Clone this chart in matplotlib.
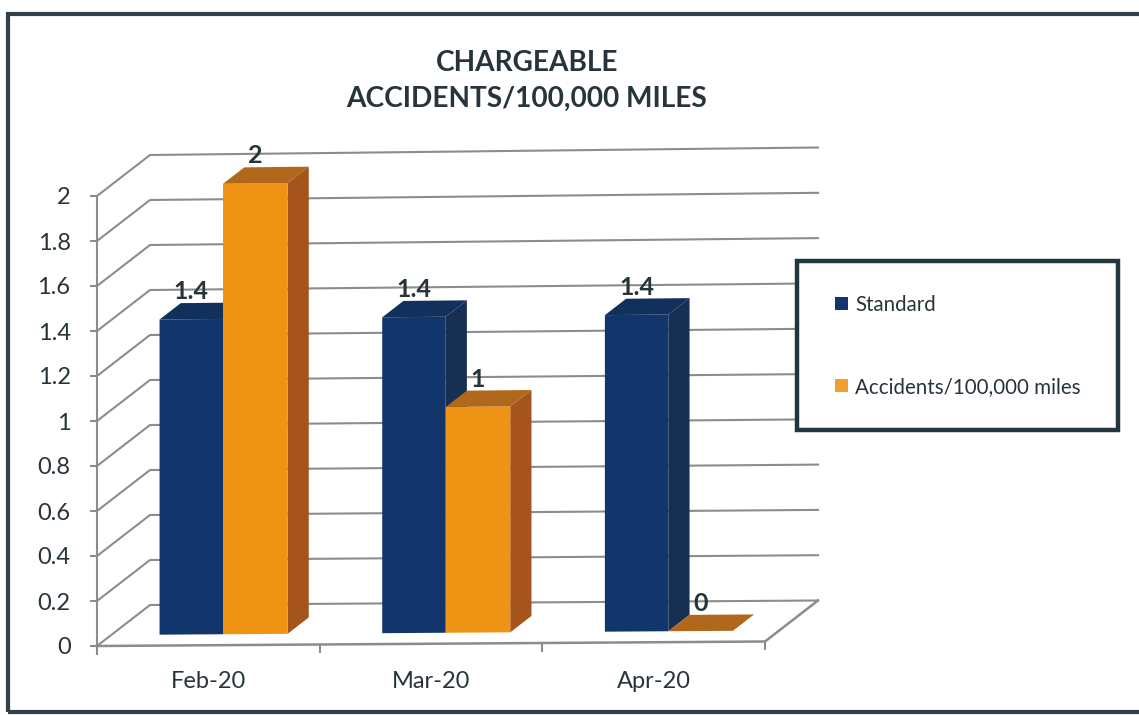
import matplotlib
matplotlib.use('Agg')
import matplotlib.pyplot as plt
from matplotlib.patches import Polygon, Rectangle, Patch

plt.rcParams['font.family'] = ['Lato', 'DejaVu Sans']

months = ['Feb-20', 'Mar-20', 'Apr-20']
standard = [1.4, 1.4, 1.4]
accidents = [2, 1, 0]
y_ticks = [0, 0.2, 0.4, 0.6, 0.8, 1, 1.2, 1.4, 1.6, 1.8, 2]
y_labels = ['0', '0.2', '0.4', '0.6', '0.8', '1', '1.2', '1.4', '1.6', '1.8', '2']

W, H = 1139, 715
TEXT = '#27343a'
GRID = '#8c8c8c'
NAVY = ('#12366b', '#12305c', '#172f52')
ORANGE = ('#ee9314', '#b0691c', '#a5541c')

# fake 3d: depth offset of the back wall, in data units
DX = 53 / 222.7
DY = 41 / 225


def proj(x, v, d=0):
    # scan is a little rotated, so lines climb to the right
    return x + d * DX, v + d * DY + (1.5 + 0.5 * v) / 225 * x


def bar3d(ax, x, w, v, cols):
    d0, d1 = 0.34, 0.74
    lift = -0.013  # bars stand a bit lower than the depth alone gives

    def pt(px, pv, d):
        qx, qy = proj(px, pv, d)
        return qx, qy + lift

    front = [pt(x, 0, d0), pt(x + w, 0, d0), pt(x + w, v, d0), pt(x, v, d0)]
    top = [pt(x, v, d0), pt(x + w, v, d0), pt(x + w, v, d1), pt(x, v, d1)]
    side = [pt(x + w, 0, d0), pt(x + w, 0, d1), pt(x + w, v, d1), pt(x + w, v, d0)]
    ax.add_patch(Polygon(side, fc=cols[2], ec='none', zorder=3, clip_on=False))
    ax.add_patch(Polygon(front, fc=cols[0], ec='none', zorder=3, clip_on=False))
    ax.add_patch(Polygon(top, fc=cols[1], ec='none', zorder=3, clip_on=False))
    # label centred on the front face, just above the back edge of the top
    lx = pt(x + w / 2, v, d0)[0]
    ly = pt(x + w / 2, v, d1)[1]
    ax.text(lx, ly + 0.05, str(v), ha='center', va='center', fontsize=18,
            fontweight='bold', color=TEXT, zorder=5, clip_on=False)


fig = plt.figure(figsize=(W / 100, H / 100), dpi=100)
ax = fig.add_axes([97 / W, (H - 646) / H, 668 / W, 450 / H])
ax.set_xlim(0, 3)
ax.set_ylim(0, 2)

# wall gridlines
for v in y_ticks:
    pts = [proj(0, v), proj(0, v, 1), proj(3, v, 1)]
    ax.plot([p[0] for p in pts], [p[1] for p in pts], color=GRID, lw=1.5,
            clip_on=False, zorder=1)

# floor
pts = [proj(0, 0), proj(3, 0), proj(3, 0, 1)]
ax.plot([p[0] for p in pts], [p[1] for p in pts], color=GRID, lw=1.8,
        clip_on=False, zorder=2)
for i in range(4):
    px, py = proj(i, 0)
    ax.plot([px, px], [py, py - 0.035], color=GRID, lw=1.5, clip_on=False, zorder=2)

for spine in ['top', 'right', 'bottom']:
    ax.spines[spine].set_visible(False)
ax.spines['left'].set_color(GRID)
ax.spines['left'].set_linewidth(1.5)
ax.patch.set_alpha(0)

ax.set_yticks(y_ticks)
ax.set_yticklabels(y_labels, fontsize=17, color=TEXT)
ax.tick_params(axis='y', length=5, width=1.5, color=GRID, pad=14)
ax.set_xticks([0.5, 1.5, 2.5])
ax.set_xticklabels(months, fontsize=17, color=TEXT)
ax.tick_params(axis='x', length=0, pad=18)

for i in range(len(months)):
    bar3d(ax, i + 0.2, 0.285, standard[i], NAVY)
    bar3d(ax, i + 0.485, 0.29, accidents[i], ORANGE)

fig.text(527 / W, 1 - 81 / H, 'CHARGEABLE\nACCIDENTS/100,000 MILES', ha='center',
         va='center', fontsize=20.2, fontweight='bold', color=TEXT, linespacing=1.5)

# outer frame, runs off the right edge
fig.add_artist(Rectangle((8 / W, 1 - 712 / H), 1140 / W, 698 / H, transform=fig.transFigure,
                         fc='none', ec='#2f4048', lw=3))

# legend box
fig.add_artist(Rectangle((797 / W, 1 - 430 / H), 321 / W, 169 / H, transform=fig.transFigure,
                         fc='white', ec='#22363e', lw=3.2, zorder=6))
handles = [Patch(fc=NAVY[0]), Patch(fc='#efa02e')]
leg = fig.legend(handles, ['Standard', 'Accidents/100,000 miles'], loc='upper left',
                 bbox_to_anchor=(835 / W, 1 - 295 / H), frameon=False, fontsize=14.8,
                 handlelength=0.62, handleheight=0.62, handletextpad=0.35,
                 labelspacing=3.0, borderpad=0, borderaxespad=0, labelcolor=TEXT)
leg.set_zorder(7)

fig.savefig('out.png', dpi=100)
